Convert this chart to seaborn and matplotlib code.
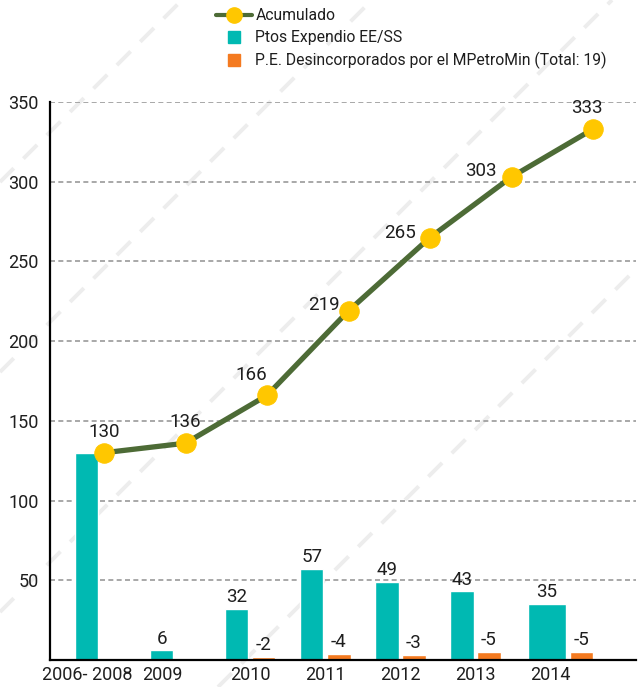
import matplotlib
matplotlib.use("Agg")
import matplotlib.pyplot as plt
import seaborn as sns
import numpy as np
from matplotlib import font_manager
from matplotlib.lines import Line2D

# ---------------- data ----------------
categories = ["2006- 2008", "2009", "2010", "2011", "2012", "2013", "2014"]
ptos_expendio = [130, 6, 32, 57, 49, 43, 35]
desincorporados = [0, 0, -2, -4, -3, -5, -5]
acumulado = [130, 136, 166, 219, 265, 303, 333]
y_ticks = [50, 100, 150, 200, 250, 300, 350]

legend_labels = ["Acumulado", "Ptos Expendio EE/SS",
                 "P.E. Desincorporados por el MPetroMin (Total: 19)"]

# ---------------- style ----------------
sns.set_style("white")
avail = {f.name for f in font_manager.fontManager.ttflist}
family = None
for cand in ["Liberation Sans Narrow", "Roboto", "Liberation Sans"]:
    if cand in avail:
        family = cand
        break
plt.rcParams["font.family"] = [family, "DejaVu Sans"]

TEAL = "#00b9b2"
ORANGE = "#f47a20"
GREEN = "#4d6b36"
GOLD = "#ffc700"
TXT = "#1e1e1e"

W, H = 638, 687
fig = plt.figure(figsize=(W / 100, H / 100), dpi=100)

# background diagonal dashed watermark lines (x + y = c in pixel space)
for c in [182, 372, 612, 905]:
    x0, y0 = 0, c
    x1, y1 = c, 0
    if y0 > H:
        x0, y0 = c - H, H
    if x1 > W:
        x1, y1 = W, c - W
    fig.add_artist(Line2D([x0 / W, x1 / W], [1 - y0 / H, 1 - y1 / H],
                          transform=fig.transFigure, color="#ededed",
                          lw=2.8, dashes=(5, 3.5), zorder=-5))

ax = fig.add_axes([50 / W, 1 - 660 / H, (636 - 50) / W, (660 - 102) / H])
ax.set_facecolor("none")

n = len(categories)
idx = np.arange(n)
BAR_W = 0.307
WIDE_W = 0.507
teal_off = np.array([-0.18] * (n - 1) + [-0.047])
orange_off = np.array([0.18] * (n - 1) + [0.407])
teal_x = idx + teal_off
orange_x = idx + orange_off
orange_h = [abs(v) for v in desincorporados]

sns.barplot(x=teal_x, y=ptos_expendio, native_scale=True, width=BAR_W,
            color=TEAL, saturation=1, errorbar=None, ax=ax, zorder=2)
# last group's teal bar is drawn wider in the original
last = ax.containers[0].patches[-1]
cx = last.get_x() + last.get_width() / 2
last.set_width(WIDE_W)
last.set_x(cx - WIDE_W / 2)

sns.barplot(x=orange_x, y=orange_h, native_scale=True, width=BAR_W,
            color=ORANGE, saturation=1, errorbar=None, ax=ax, zorder=2)

ax.set_xlim(-0.673, (636 - 100.5) / 75)
ax.set_ylim(0, 350)

# bar value labels
for x, v in zip(teal_x, ptos_expendio):
    if v < 100:
        ax.annotate(str(v), (x, v), xytext=(0, 2), textcoords="offset points",
                    ha="center", va="bottom", fontsize=13.5, color=TXT)
for x, h, v in zip(orange_x, orange_h, desincorporados):
    if v != 0:
        ax.annotate(str(v), (x, h), xytext=(0, 2), textcoords="offset points",
                    ha="center", va="bottom", fontsize=13.5, color=TXT)

# ticks
tick_pos = [i if desincorporados[i] != 0 else teal_x[i] for i in range(n)]
ax.set_xticks(tick_pos)
ax.set_xticklabels(categories, fontsize=13, color=TXT)
ax.set_yticks(y_ticks)
ax.set_yticklabels([str(t) for t in y_ticks], fontsize=13, color=TXT)
ax.tick_params(axis="y", length=0, pad=8)
ax.tick_params(axis="x", length=0, pad=4)
ax.set_xlabel("")
ax.set_ylabel("")

ax.yaxis.grid(True, linestyle=(0, (3, 2)), color="#9a9a9a", lw=1.2)
ax.xaxis.grid(False)
ax.set_axisbelow(True)
for s in ["top", "right"]:
    ax.spines[s].set_visible(False)
for s in ["left", "bottom"]:
    ax.spines[s].set_color("black")
    ax.spines[s].set_linewidth(1.6)

# cumulative line on its own x scale
ax2 = ax.twiny()
ax2.set_facecolor("none")
sns.lineplot(x=idx, y=acumulado, ax=ax2, color=GREEN, lw=3.8, marker="o",
             markersize=14, markerfacecolor=GOLD, markeredgecolor=GOLD,
             zorder=5)
ax2.set_xlim((50 - 104) / 81.5, (636 - 104) / 81.5)
ax2.set_ylim(0, 350)
ax2.set_xticks([])
for s in ax2.spines.values():
    s.set_visible(False)

label_offsets = [(0, 21), (0, 21), (-16, 20), (-25, 6), (-30, 5), (-31, 6), (-6, 21)]
for i, (v, (dx, dy)) in enumerate(zip(acumulado, label_offsets)):
    ax2.annotate(str(v), (i, v), xytext=(dx, dy), textcoords="offset pixels",
                 ha="center", va="center", fontsize=13.5, color=TXT, zorder=6)

# legend
handles = [
    Line2D([], [], color=GREEN, lw=3, marker="o", markersize=11,
           markerfacecolor=GOLD, markeredgecolor=GOLD),
    Line2D([], [], color=TEAL, lw=0, marker="s", markersize=8),
    Line2D([], [], color=ORANGE, lw=0, marker="s", markersize=8),
]
fig.legend(handles, legend_labels, loc="upper left",
           bbox_to_anchor=(216 / W, 1 - 8 / H), frameon=False, fontsize=11.3,
           handlelength=2.3, handletextpad=0.2, labelspacing=0.45,
           borderpad=0, borderaxespad=0, labelcolor=TXT)

fig.savefig("out.png", dpi=100)
